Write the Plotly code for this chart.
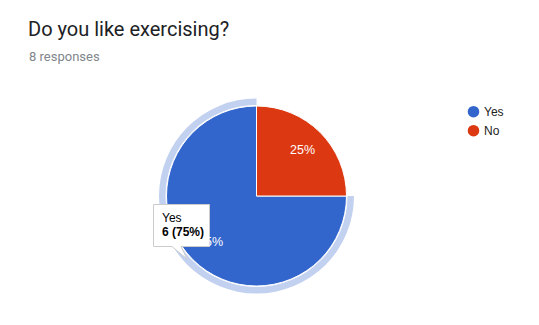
import math
import plotly.graph_objects as go

# ---- data ----
labels = ["Yes", "No"]
counts = [6, 2]
colors = ["#3366CC", "#DC3912"]
title_text = "Do you like exercising?"
subtitle_text = f"{sum(counts)} responses"
highlight_color = "rgb(194,209,240)"

W, H = 539, 325
cx, cy, R = 256.5, 196.0, 90.0        # pie centre (px from top-left) and radius
ring_in, ring_out = 91.0, 97.5
START = 90                             # first slice starts at 3 o'clock, goes clockwise


def px(x):
    return x / W


def py(y):
    return 1 - y / H


fig = go.Figure()

# highlight ring around hovered slice (Yes)
fig.add_trace(go.Pie(
    labels=labels, values=counts, sort=False, direction="clockwise", rotation=START,
    hole=ring_in / ring_out,
    marker=dict(colors=[highlight_color, "rgba(0,0,0,0)"], line=dict(width=0)),
    textinfo="none", hoverinfo="skip", showlegend=False,
    domain=dict(x=[px(cx - ring_out), px(cx + ring_out)],
                y=[py(cy + ring_out), py(cy - ring_out)]),
))

# main pie
fig.add_trace(go.Pie(
    labels=labels, values=counts, sort=False, direction="clockwise", rotation=START,
    marker=dict(colors=colors, line=dict(color="white", width=1)),
    textinfo="none",
    hoverinfo="skip", showlegend=False,
    domain=dict(x=[px(cx - R), px(cx + R)], y=[py(cy + R), py(cy - R)]),
))

annotations = []
shapes = []

# slice percentage labels (placed at ~72% radius along each slice's mid-angle)
total = sum(counts)
acc = 0
for c in counts:
    mid = START + (acc + c / 2) / total * 360   # degrees clockwise from 12 o'clock
    acc += c
    lx = cx + 0.725 * R * math.sin(math.radians(mid))
    ly = cy - 0.725 * R * math.cos(math.radians(mid))
    annotations.append(dict(text=f"{c / total * 100:.0f}%", x=px(lx), y=py(ly),
                            xref="paper", yref="paper", xanchor="center", yanchor="middle",
                            showarrow=False,
                            font=dict(family="Arial, Liberation Sans", size=12.5, color="white")))

# title & subtitle
annotations.append(dict(text=title_text, x=px(26), y=py(28.5), xref="paper", yref="paper",
                        xanchor="left", yanchor="middle", showarrow=False,
                        font=dict(family="Roboto", size=20, color="#202124")))
annotations.append(dict(text=subtitle_text, x=px(27), y=py(57), xref="paper", yref="paper",
                        xanchor="left", yanchor="middle", showarrow=False,
                        font=dict(family="Roboto", size=13, color="#80868b")))

# legend (circles + text)
leg_y = [111.7, 130.7]
for lab, col, ly in zip(labels, colors, leg_y):
    r = 5.8
    shapes.append(dict(type="circle", xref="paper", yref="paper",
                       x0=px(473.5 - r), x1=px(473.5 + r), y0=py(ly + r), y1=py(ly - r),
                       fillcolor=col, line=dict(width=0)))
    annotations.append(dict(text=lab, x=px(482), y=py(ly + 0.6), xref="paper", yref="paper",
                            xanchor="left", yanchor="middle", showarrow=False,
                            font=dict(family="Arial, Liberation Sans", size=12, color="#222222")))

# tooltip box with tail
bx0, by0, bx1, by1 = 153.5, 204.5, 209.5, 246.5
pts = [(bx0, by0), (bx1, by0), (bx1, by1), (181, by1), (187, 259), (172, by1), (bx0, by1)]
path = "M " + " L ".join(f"{px(x)},{py(y)}" for x, y in pts) + " Z"
shapes.append(dict(type="path", path=path, xref="paper", yref="paper", layer="above",
                   fillcolor="white", line=dict(color="#cccccc", width=1)))
pct = counts[0] / total * 100
tooltip = [
    (labels[0], 218.3),
    (f"<b>{counts[0]} ({pct:.0f}%)</b>", 231.8),
]
for txt, ty in tooltip:
    annotations.append(dict(text=txt, x=px(160.5), y=py(ty), xref="paper", yref="paper",
                            xanchor="left", yanchor="middle", showarrow=False,
                            font=dict(family="Arial, Liberation Sans", size=12, color="#000000")))

fig.update_layout(
    width=W, height=H, autosize=False,
    margin=dict(l=0, r=0, t=0, b=0),
    paper_bgcolor="white", plot_bgcolor="white",
    showlegend=False,
    annotations=annotations, shapes=shapes,
)

fig.write_html("out.html", config=dict(displayModeBar=False))
